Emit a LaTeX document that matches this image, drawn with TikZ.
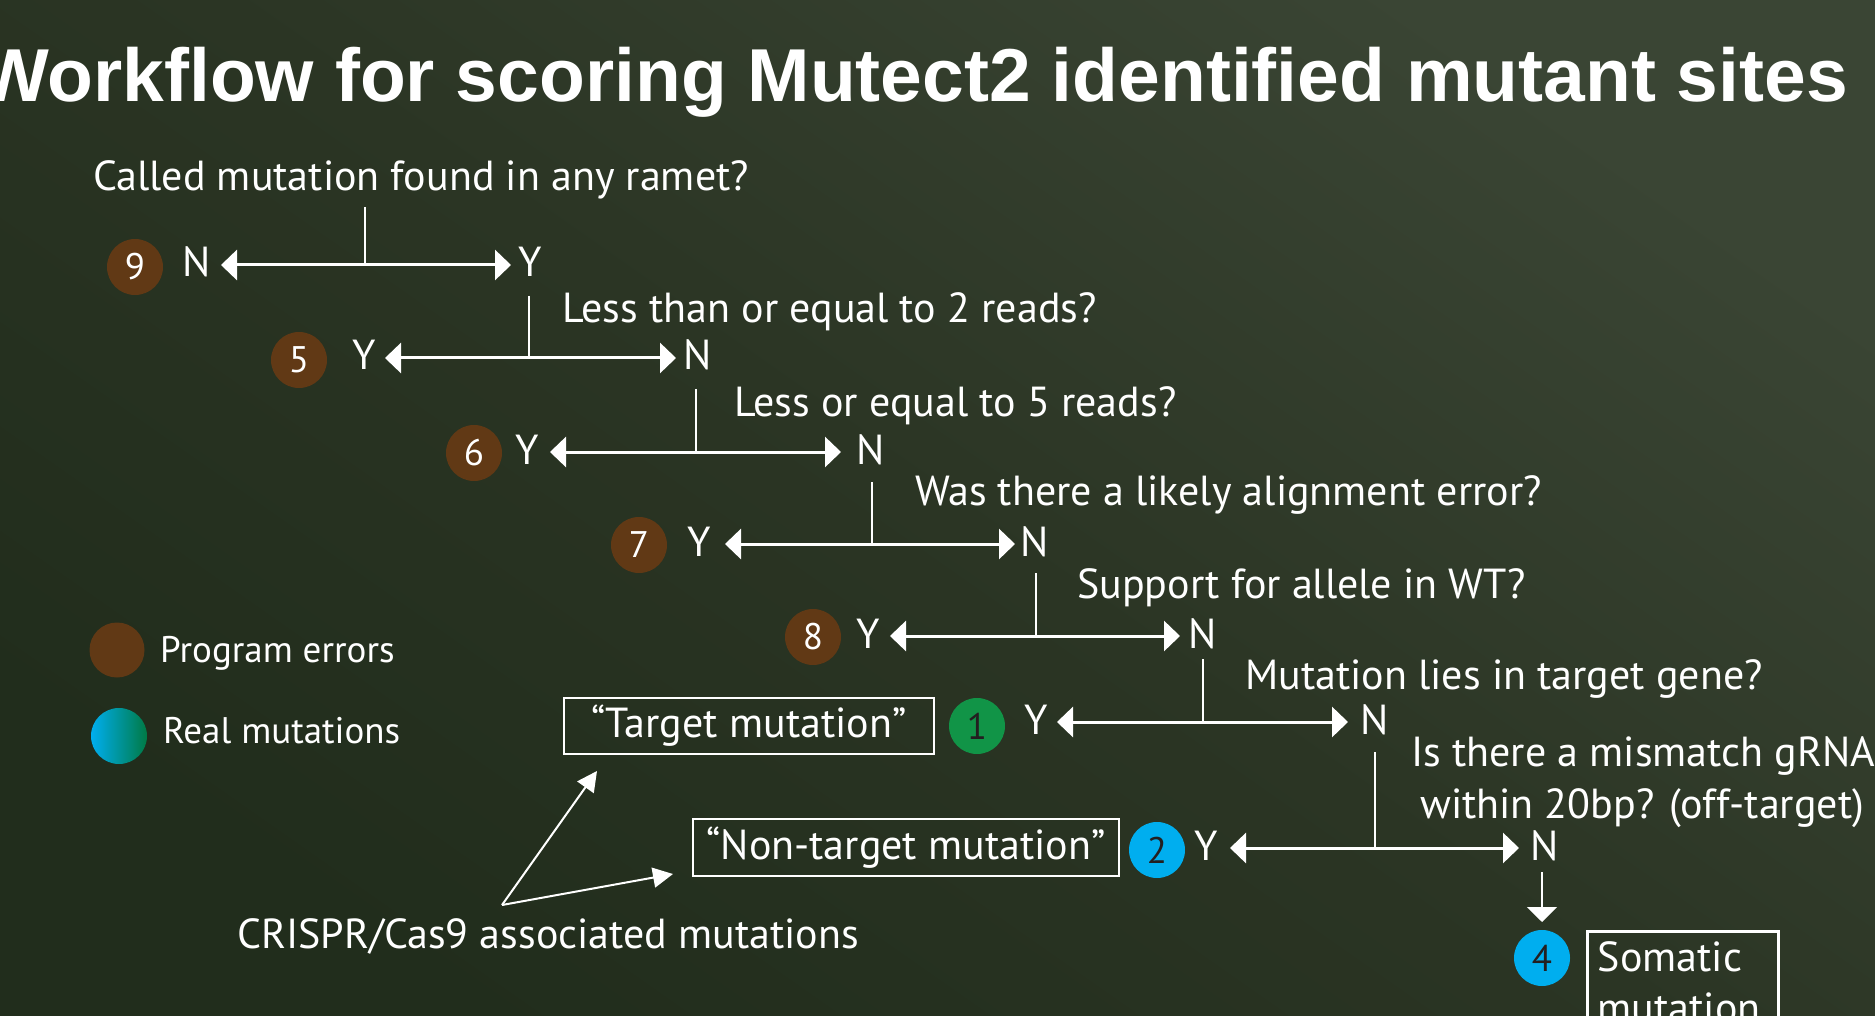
\documentclass[tikz,border=0pt]{standalone}
\usepackage{fontspec}
\setmainfont{PT Sans}
\newfontfamily\titlefont{Liberation Sans}
\usetikzlibrary{arrows.meta}
\definecolor{bgUR}{RGB}{58,69,52}
\definecolor{bgMid}{RGB}{43,53,36}
\definecolor{bgLL}{RGB}{33,45,28}
\definecolor{errbrown}{RGB}{97,57,21}
\definecolor{tgtgreen}{RGB}{17,148,71}
\definecolor{realblue}{RGB}{0,174,239}
\definecolor{realgreen}{RGB}{0,122,69}
\definecolor{digitdark}{RGB}{35,31,32}
\begin{document}
\begin{tikzpicture}[x=1pt,y=-1pt,
  qtext/.style={anchor=base west, text=white, inner sep=0pt, font=\fontsize{42}{51}\selectfont},
  yn/.style={anchor=base, text=white, inner sep=0pt, font=\fontsize{42}{50}\selectfont},
  num/.style={circle, minimum size=56pt, inner sep=0pt, font=\fontsize{37}{37}\selectfont},
  errnum/.style={num, fill=errbrown, text=white},
  stem/.style={draw=white, line width=2.2pt},
  fork/.style={draw=white, line width=3pt, arrows={Triangle[length=16pt,width=30pt]-Triangle[length=16pt,width=30pt]}},
  downarrow/.style={draw=white, line width=2.2pt, arrows={-Triangle[length=15pt,width=30pt]}},
  pointer/.style={draw=white, line width=2pt, arrows={-Triangle[length=20pt,width=20pt]}},
  outcome/.style={draw=white, line width=2.5pt, text=white, inner sep=0pt, font=\fontsize{42}{51}\selectfont},
  legtext/.style={anchor=base west, text=white, inner sep=0pt, font=\fontsize{37}{44}\selectfont}]
\useasboundingbox (0,0) rectangle (1875,1016);
\clip (0,0) rectangle (1875,1016);
\shade[top color=bgUR, bottom color=bgLL, middle color=bgMid, shading angle=-35] (0,0) rectangle (1875,1016);

% title
\node[anchor=base east, text=white, inner sep=0pt, font=\titlefont\bfseries\fontsize{75}{80}\selectfont] (title) at (1848,102) {Workflow for scoring Mutect2 identified mutant sites};

% questions
\node[qtext] (q1) at (93,191) {Called mutation found in any ramet?};
\node[qtext] (q2) at (562,323) {Less than or equal to 2 reads?};
\node[qtext] (q3) at (734,417) {Less or equal to 5 reads?};
\node[qtext] (q4) at (915,505) {Was there a likely alignment error?};
\node[qtext] (q5) at (1077,598) {Support for allele in WT?};
\node[qtext] (q6) at (1245,689) {Mutation lies in target gene?};
\node[qtext] (q7a) at (1411,766) {Is there a mismatch gRNA};
\node[qtext] (q7b) at (1420,818) {within 20bp? (off-target)};

% level 1
\coordinate (t1) at (365,207); \coordinate (s1) at (365,265);
\coordinate (l1) at (221,265); \coordinate (r1) at (511,265);
\draw[stem] (t1) -- (s1);
\draw[fork] (l1) -- (r1);
\node[yn] (ln1) at (197,277) {N};
\node[yn] (ry1) at (530,277) {Y};
\node[errnum] (c9) at (135,267) {9};

% level 2
\coordinate (t2) at (529,296); \coordinate (s2) at (529,358);
\coordinate (l2) at (385,358); \coordinate (r2) at (676,358);
\draw[stem] (t2) -- (s2);
\draw[fork] (l2) -- (r2);
\node[yn] (ly2) at (364,370) {Y};
\node[yn] (rn2) at (698,370) {N};
\node[errnum] (c5) at (299,360) {5};

% level 3
\coordinate (t3) at (696,389); \coordinate (s3) at (696,452);
\coordinate (l3) at (550,452); \coordinate (r3) at (841,452);
\draw[stem] (t3) -- (s3);
\draw[fork] (l3) -- (r3);
\node[yn] (ly3) at (527,464) {Y};
\node[yn] (rn3) at (871,464) {N};
\node[errnum] (c6) at (474,453) {6};

% level 4
\coordinate (t4) at (872,482); \coordinate (s4) at (872,544);
\coordinate (l4) at (725,544); \coordinate (r4) at (1015,544);
\draw[stem] (t4) -- (s4);
\draw[fork] (l4) -- (r4);
\node[yn] (ly4) at (699,556) {Y};
\node[yn] (rn4) at (1035,556) {N};
\node[errnum] (c7) at (639,545) {7};

% level 5
\coordinate (t5) at (1036,573); \coordinate (s5) at (1036,636);
\coordinate (l5) at (890,636); \coordinate (r5) at (1180,636);
\draw[stem] (t5) -- (s5);
\draw[fork] (l5) -- (r5);
\node[yn] (ly5) at (868,648) {Y};
\node[yn] (rn5) at (1203,648) {N};
\node[errnum] (c8) at (813,637) {8};

% level 6
\coordinate (t6) at (1203,659); \coordinate (s6) at (1203,722);
\coordinate (l6) at (1057,722); \coordinate (r6) at (1348,722);
\draw[stem] (t6) -- (s6);
\draw[fork] (l6) -- (r6);
\node[yn] (ly6) at (1036,734) {Y};
\node[yn] (rn6) at (1375,734) {N};
\node[num, fill=tgtgreen, text=digitdark] (c1) at (977,726) {1};

% level 7
\coordinate (t7) at (1375,752); \coordinate (s7) at (1375,848);
\coordinate (l7) at (1230,848); \coordinate (r7) at (1519,848);
\draw[stem] (t7) -- (s7);
\draw[fork] (l7) -- (r7);
\node[yn] (ly7) at (1206,860) {Y};
\node[yn] (rn7) at (1545,860) {N};
\node[num, fill=realblue, text=digitdark] (c2) at (1157,850) {2};

% final
\coordinate (d0) at (1542,872); \coordinate (d1) at (1542,922);
\draw[downarrow] (d0) -- (d1);
\node[num, fill=realblue, text=digitdark] (c4) at (1542,958) {4};
\node[outcome, anchor=north west, align=left, text width=170pt, inner xsep=10.5pt, inner ysep=10pt] (somatic) at (1586,930) {Somatic\\mutation};

% outcome boxes
\node[outcome, minimum width=370pt, minimum height=56pt] (target) at (749,726) {“Target mutation”};
\node[outcome, minimum width=426pt, minimum height=57pt] (nontarget) at (906,847.5) {“Non-target mutation”};

% CRISPR annotation
\node[qtext] (crispr) at (237,948) {CRISPR/Cas9 associated mutations};
\coordinate (po) at (502,905);
\coordinate (p1) at (597,771);
\coordinate (p2) at (673,874);
\draw[pointer] (po) -- (p1);
\draw[pointer] (po) -- (p2);

% legend
\node[circle, minimum size=55pt, inner sep=0pt, fill=errbrown] (legerr) at (117,650) {};
\node[legtext] (legerrt) at (160,662) {Program errors};
\node[circle, minimum size=56pt, inner sep=0pt, left color=realblue, right color=realgreen] (legreal) at (119,736) {};
\node[legtext] (legrealt) at (163,743) {Real mutations};
\end{tikzpicture}
\end{document}
